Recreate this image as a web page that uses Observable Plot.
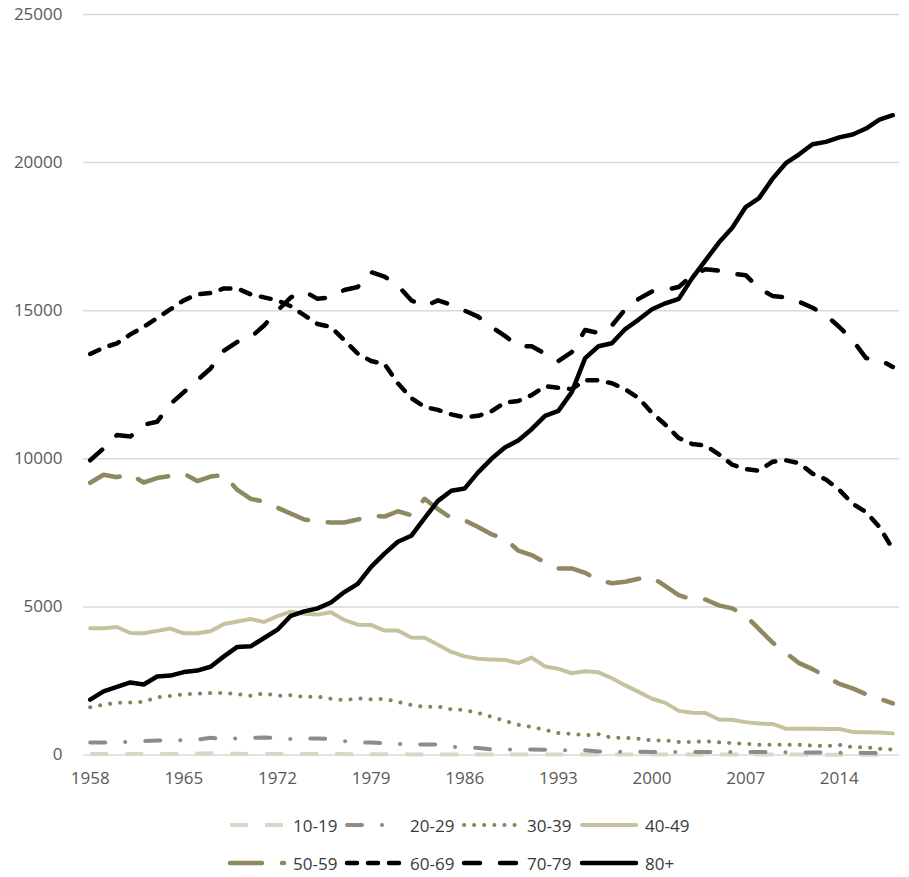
<!DOCTYPE html>
<html><head><meta charset="utf-8">
<script src="https://cdn.jsdelivr.net/npm/d3@7"></script>
<script src="https://cdn.jsdelivr.net/npm/@observablehq/plot@0.6"></script>
<style>
body{margin:0;background:#fff;font-family:"Open Sans",sans-serif;}
#wrap{position:relative;width:909px;height:877px;overflow:hidden;}
#legend{position:absolute;left:0;top:800px;width:909px;height:77px;}
.item{position:absolute;display:flex;align-items:center;height:20px;font-size:17px;color:#3a3a3a;white-space:nowrap;}
.item svg{margin-right:6px;display:block}
</style></head><body><div id="wrap"><div id="chart"></div><div id="legend"></div></div>
<script>
const years = d3.range(1958, 2019);
const tickYears = [1958, 1965, 1972, 1979, 1986, 1993, 2000, 2007, 2014];
const yTicks = [0, 5000, 10000, 15000, 20000, 25000];
const seriesNames = ["10-19", "20-29", "30-39", "40-49", "50-59", "60-69", "70-79", "80+"];

const s10_19 = [30,30,30,30,30,30,35,40,45,60,
  45,40,35,30,30,30,30,30,30,30,
  25,25,25,25,20,20,20,20,20,20,
  20,20,20,20,20,20,15,15,15,15,
  15,15,15,15,15,15,15,15,15,15,
  15,15,15,15,10,10,10,10,10,10,
  10];
const s20_29 = [420,420,430,440,470,490,490,500,520,580,
  540,560,580,590,580,540,550,560,540,470,
  430,420,400,370,355,355,350,280,250,240,
  190,185,180,185,180,150,170,160,120,110,
  110,110,100,100,100,100,100,95,100,100,
  100,95,90,90,85,80,80,75,70,70,
  60];
const s30_39 = [1610,1700,1765,1770,1800,1950,1990,2050,2070,2090,
  2100,2050,2000,2080,2000,2020,1960,1970,1900,1850,
  1910,1880,1900,1790,1690,1620,1640,1540,1520,1420,
  1290,1150,1020,950,850,740,715,665,700,580,
  580,550,490,490,440,440,465,430,400,380,
  350,345,345,345,320,300,340,265,265,210,
  185];
const s40_49 = [4280,4280,4320,4120,4110,4190,4270,4110,4110,4180,
  4420,4510,4590,4490,4690,4840,4770,4740,4820,4560,
  4400,4390,4200,4200,3970,3960,3720,3480,3330,3250,
  3220,3210,3100,3290,2990,2910,2760,2830,2790,2590,
  2350,2130,1900,1760,1490,1430,1420,1200,1190,1110,
  1060,1050,890,890,890,880,880,780,770,760,
  730];
const s50_59 = [9190,9460,9380,9480,9200,9350,9420,9500,9250,9400,
  9450,8950,8650,8550,8350,8150,7950,7880,7850,7850,
  7950,8080,8050,8230,8100,8650,8300,8000,7920,7700,
  7450,7300,6900,6750,6500,6300,6300,6150,5900,5800,
  5850,5950,6000,5700,5400,5250,5250,5050,4950,4700,
  4250,3800,3450,3100,2900,2650,2400,2250,2050,1900,
  1740];
const s60_69 = [13540,13750,13900,14200,14450,14750,15050,15350,15550,15600,
  15750,15750,15550,15450,15350,15150,14850,14550,14450,14000,
  13550,13300,13200,12550,12050,11750,11650,11500,11400,11450,
  11600,11900,11950,12150,12450,12400,12350,12650,12650,12550,
  12350,12050,11550,11150,10700,10500,10450,10150,9800,9650,
  9600,9900,9950,9850,9500,9300,8950,8480,8200,7700,
  6950];
const s70_79 = [9950,10350,10800,10750,11150,11250,11850,12250,12650,13050,
  13650,13950,14100,14500,15000,15450,15650,15400,15450,15700,
  15800,16300,16150,15850,15350,15150,15350,15200,15000,14800,
  14450,14150,13800,13800,13550,13300,13600,14350,14250,14500,
  15050,15400,15650,15700,15800,16200,16400,16350,16250,16200,
  15750,15500,15450,15300,15100,14850,14450,14000,13400,13350,
  13100];
const s80p = [1870,2150,2300,2450,2380,2650,2680,2800,2850,2980,
  3330,3650,3670,3950,4230,4700,4850,4950,5150,5500,
  5780,6350,6800,7200,7400,8000,8580,8920,9000,9540,
  10000,10380,10620,11000,11450,11620,12250,13400,13800,13900,
  14380,14700,15050,15250,15400,16100,16700,17300,17800,18500,
  18800,19450,19980,20280,20620,20700,20850,20950,21150,21450,
  21600];
const seriesValues = [s10_19, s20_29, s30_39, s40_49, s50_59, s60_69, s70_79, s80p];

const styles = {
  "10-19": {stroke: "#d9d7c6", width: 4, dash: "18,17", cap: "butt"},
  "20-29": {stroke: "#8c8c8c", width: 4, dash: "15,20,0.1,20", cap: "round"},
  "30-39": {stroke: "#8a8357", width: 4, dash: "0.1,10", cap: "round"},
  "40-49": {stroke: "#c6c19f", width: 4, dash: null, cap: "round"},
  "50-59": {stroke: "#8f8961", width: 4.5, dash: "32,20", cap: "round"},
  "60-69": {stroke: "#000000", width: 4.5, dash: "10,11", cap: "round"},
  "70-79": {stroke: "#000000", width: 4.5, dash: "16,20", cap: "round"},
  "80+": {stroke: "#000000", width: 4.5, dash: null, cap: "round"}
};

const data = seriesNames.flatMap((name, i) =>
  years.map((year, j) => ({name, year, value: seriesValues[i][j]})));

const lineMarks = seriesNames.map(name => {
  const st = styles[name];
  const opts = {x: "year", y: "value", stroke: st.stroke, strokeWidth: st.width,
    strokeLinecap: st.cap, strokeLinejoin: "round"};
  if (st.dash) opts.strokeDasharray = st.dash;
  return Plot.lineY(data.filter(d => d.name === name), opts);
});

const chart = Plot.plot({
  width: 909, height: 800,
  marginLeft: 83, marginRight: 10, marginTop: 14, marginBottom: 45.5,
  x: {domain: [1957.5, 2018.5], label: null},
  y: {domain: [0, 25000], label: null},
  style: {fontFamily: "'Open Sans', sans-serif", fontSize: "17px", color: "#595959", background: "#fff"},
  marks: [
    Plot.gridY(yTicks, {stroke: "#d9d9d9", strokeOpacity: 1, strokeWidth: 1.5}),
    Plot.axisY(yTicks, {tickSize: 0, tickPadding: 21, tickFormat: d => String(d), label: null, fill: "#595959", fontSize: 17}),
    Plot.axisX(tickYears, {tickSize: 0, tickPadding: 17, tickFormat: d => String(d), label: null, fill: "#595959", fontSize: 17}),
    ...lineMarks
  ]
});
document.getElementById("chart").appendChild(chart);

// legend
const cols = [230, 347, 464, 582];
const rows = [15, 53];
const legend = d3.select("#legend");
seriesNames.forEach((name, i) => {
  const st = styles[name];
  const item = legend.append("div").attr("class", "item")
    .style("left", (cols[i % 4] - 3) + "px").style("top", rows[Math.floor(i / 4)] + "px");
  const svg = item.append("svg").attr("width", 60).attr("height", 20);
  const ln = svg.append("line").attr("x1", 3).attr("x2", 57).attr("y1", 10).attr("y2", 10)
    .attr("stroke", st.stroke).attr("stroke-width", st.width).attr("stroke-linecap", st.cap);
  if (st.dash) ln.attr("stroke-dasharray", st.dash);
  item.append("span").text(name);
});
</script>
</body></html>
